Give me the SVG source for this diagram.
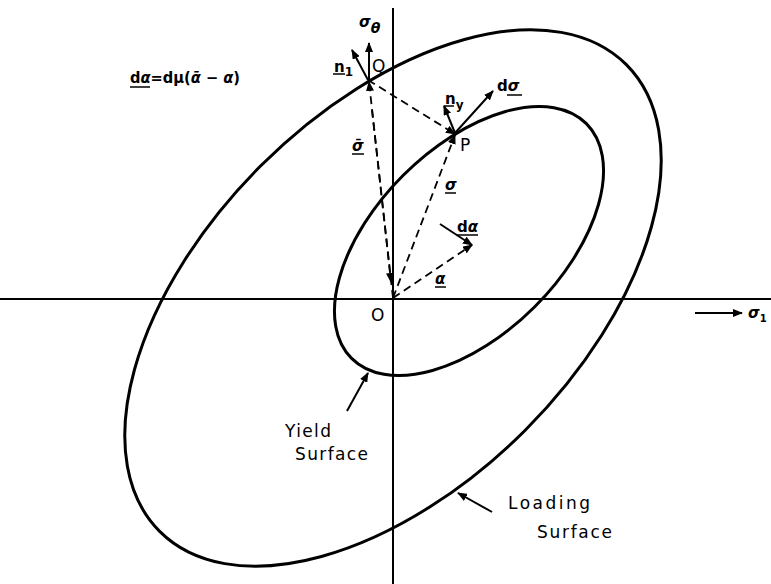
<svg xmlns="http://www.w3.org/2000/svg" width="771" height="584" viewBox="0 0 771 584">
<style>
.axis{stroke:#000;stroke-width:2;fill:none}
.curve{stroke:#000;stroke-width:3;fill:none}
.dash{stroke:#000;stroke-width:1.8;fill:none;stroke-dasharray:8 5}
.solid{stroke:#000;stroke-width:2;fill:none}
text{font-family:"DejaVu Sans","Liberation Sans",sans-serif;fill:#000;font-weight:bold}
.lbl{font-size:15px}
.big{font-size:17px;font-weight:normal}
.gr{font-style:italic}
.ul{stroke:#000;stroke-width:1.5}
</style>
<defs>
<marker id="ah" markerWidth="10" markerHeight="8" refX="9" refY="4" orient="auto" markerUnits="userSpaceOnUse">
<path d="M0,0 L10,4 L0,8 Z" fill="#000"/>
</marker>
</defs>
<rect width="771" height="584" fill="#fff"/>
<g id="axes">
<line class="axis" x1="0" y1="299" x2="771" y2="299"/>
<line class="axis" x1="393" y1="8" x2="393" y2="584"/>
</g>
<g id="loading-surface">
<ellipse class="curve" cx="393" cy="298" rx="330" ry="187" transform="rotate(-45 393 298)"/>
</g>
<g id="yield-surface">
<ellipse class="curve" cx="469" cy="241" rx="166" ry="93" transform="rotate(-45 469 241)"/>
</g>
<g id="connectors">
<line class="dash" x1="393" y1="298" x2="369" y2="82" marker-end="url(#ah)"/>
<line class="dash" x1="372" y1="110" x2="391" y2="282" marker-end="url(#ah)"/>
<line class="dash" x1="368" y1="80" x2="455" y2="134" marker-end="url(#ah)"/>
<line class="dash" x1="393" y1="298" x2="455" y2="135" marker-end="url(#ah)"/>
<line class="dash" x1="393" y1="298" x2="472" y2="245" marker-end="url(#ah)"/>
<line class="solid" x1="440" y1="224" x2="472" y2="245" marker-end="url(#ah)"/>
<line class="solid" x1="369" y1="80" x2="369" y2="43" marker-end="url(#ah)"/>
<line class="solid" x1="368" y1="80" x2="352" y2="50" marker-end="url(#ah)"/>
<line class="solid" x1="455" y1="133" x2="444" y2="106" marker-end="url(#ah)"/>
<line class="solid" x1="455" y1="133" x2="493" y2="91" marker-end="url(#ah)"/>
<line class="solid" x1="347" y1="411" x2="368" y2="373" marker-end="url(#ah)"/>
<line class="solid" x1="492" y1="512" x2="458" y2="493" marker-end="url(#ah)"/>
<line class="solid" x1="695" y1="313" x2="742" y2="313" marker-end="url(#ah)"/>
</g>
<g id="labels">
<text class="lbl" x="130" y="83" textLength="110" lengthAdjust="spacingAndGlyphs">d<tspan class="gr">α</tspan>=dμ(<tspan class="gr">ᾱ</tspan> − <tspan class="gr">α</tspan>)</text>
<line class="ul" x1="130" y1="87" x2="150" y2="87"/>
<text class="lbl" x="359" y="27" font-size="17"><tspan class="gr">σ</tspan><tspan dy="6" font-size="14" class="gr">θ</tspan></text>
<text class="lbl" x="334" y="72">n<tspan dy="4" font-size="12">1</tspan></text>
<line class="ul" x1="333" y1="74" x2="345" y2="74"/>
<text class="big" x="372" y="72" font-size="19">Q</text>
<text class="lbl" x="445" y="104">n<tspan dy="5" font-size="12">y</tspan></text>
<line class="ul" x1="444" y1="106" x2="454" y2="106"/>
<text class="lbl" x="497" y="91">d<tspan class="gr">σ</tspan></text>
<line class="ul" x1="507" y1="95" x2="522" y2="95"/>
<text class="big" x="460" y="151" font-size="18">P</text>
<text class="lbl gr" x="352" y="151">σ̄</text>
<line class="ul" x1="352" y1="154" x2="364" y2="154"/>
<text class="lbl gr" x="445" y="190">σ</text>
<line class="ul" x1="445" y1="193" x2="456" y2="193"/>
<text class="lbl" x="457" y="232">d<tspan class="gr">α</tspan></text>
<line class="ul" x1="457" y1="235" x2="478" y2="235"/>
<text class="lbl gr" x="435" y="284">α</text>
<line class="ul" x1="435" y1="287" x2="446" y2="287"/>
<text class="big" x="371" y="321">O</text>
<text class="lbl" x="748" y="318" font-size="14"><tspan class="gr">σ</tspan><tspan dy="4" font-size="10">1</tspan></text>
<text class="big" x="285" y="437" textLength="46" lengthAdjust="spacing">Yield</text>
<text class="big" x="295" y="460" textLength="73" lengthAdjust="spacing">Surface</text>
<text class="big" x="508" y="509" textLength="82" lengthAdjust="spacing">Loading</text>
<text class="big" x="537" y="538" textLength="75" lengthAdjust="spacing">Surface</text>
</g>
</svg>
